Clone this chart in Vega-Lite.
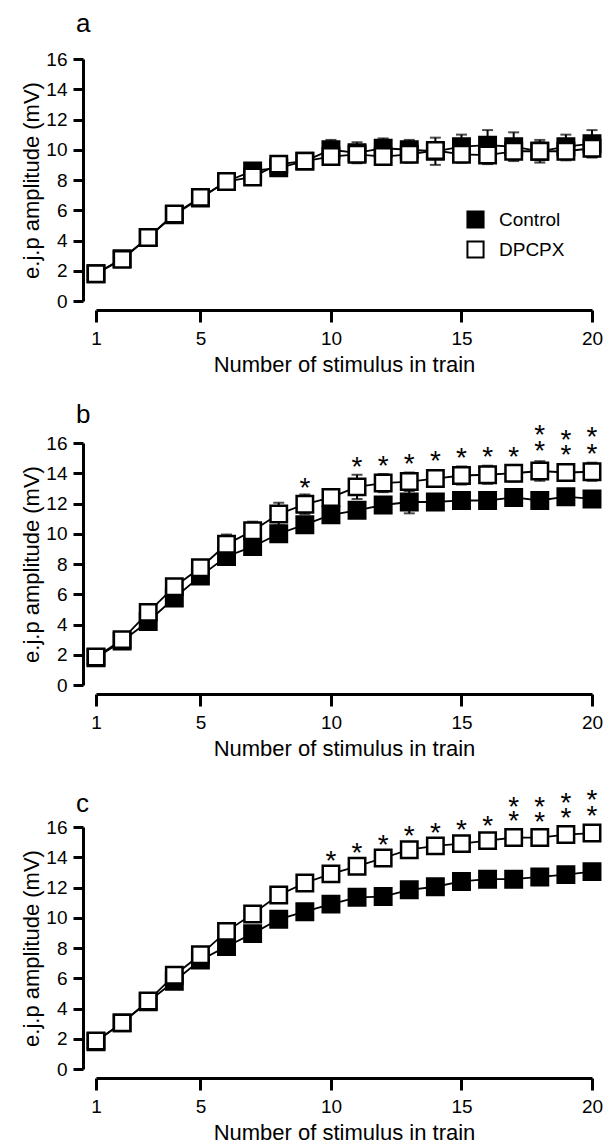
{
  "$schema": "https://vega.github.io/schema/vega-lite/v6.json",
  "padding": {"left": 20, "top": 11, "right": 2, "bottom": 2},
  "background": "white",
  "config": {
    "font": "Liberation Sans",
    "view": {"stroke": null},
    "axis": {"grid": false, "domainColor": "black", "tickColor": "black", "labelColor": "black", "titleColor": "black", "titleFontWeight": "normal", "domainWidth": 3, "tickWidth": 3, "labelFontSize": 19, "titleFontSize": 22, "labelFont": "Liberation Sans", "titleFont": "Liberation Sans"},
    "title": {"fontSize": 26, "fontWeight": "normal", "anchor": "start", "frame": "group", "color": "black", "font": "Liberation Sans"}
  },
  "datasets": {
    "series": [
      {"panel": "a", "group": "Control", "x": 1, "mean": 1.8, "sem": 0.15},
      {"panel": "a", "group": "Control", "x": 2, "mean": 2.8, "sem": 0.2},
      {"panel": "a", "group": "Control", "x": 3, "mean": 4.2, "sem": 0.25},
      {"panel": "a", "group": "Control", "x": 4, "mean": 5.7, "sem": 0.3},
      {"panel": "a", "group": "Control", "x": 5, "mean": 6.8, "sem": 0.35},
      {"panel": "a", "group": "Control", "x": 6, "mean": 7.9, "sem": 0.35},
      {"panel": "a", "group": "Control", "x": 7, "mean": 8.6, "sem": 0.4},
      {"panel": "a", "group": "Control", "x": 8, "mean": 8.8, "sem": 0.4},
      {"panel": "a", "group": "Control", "x": 9, "mean": 9.25, "sem": 0.4},
      {"panel": "a", "group": "Control", "x": 10, "mean": 10.0, "sem": 0.65},
      {"panel": "a", "group": "Control", "x": 11, "mean": 9.8, "sem": 0.7},
      {"panel": "a", "group": "Control", "x": 12, "mean": 10.1, "sem": 0.65},
      {"panel": "a", "group": "Control", "x": 13, "mean": 10.0, "sem": 0.65},
      {"panel": "a", "group": "Control", "x": 14, "mean": 9.9, "sem": 0.9},
      {"panel": "a", "group": "Control", "x": 15, "mean": 10.2, "sem": 0.8},
      {"panel": "a", "group": "Control", "x": 16, "mean": 10.3, "sem": 1.0},
      {"panel": "a", "group": "Control", "x": 17, "mean": 10.2, "sem": 0.95},
      {"panel": "a", "group": "Control", "x": 18, "mean": 9.9, "sem": 0.6},
      {"panel": "a", "group": "Control", "x": 19, "mean": 10.2, "sem": 0.8},
      {"panel": "a", "group": "Control", "x": 20, "mean": 10.4, "sem": 0.9},
      {"panel": "b", "group": "Control", "x": 1, "mean": 1.8, "sem": 0.15},
      {"panel": "b", "group": "Control", "x": 2, "mean": 2.9, "sem": 0.2},
      {"panel": "b", "group": "Control", "x": 3, "mean": 4.2, "sem": 0.25},
      {"panel": "b", "group": "Control", "x": 4, "mean": 5.75, "sem": 0.3},
      {"panel": "b", "group": "Control", "x": 5, "mean": 7.2, "sem": 0.3},
      {"panel": "b", "group": "Control", "x": 6, "mean": 8.5, "sem": 0.35},
      {"panel": "b", "group": "Control", "x": 7, "mean": 9.15, "sem": 0.4},
      {"panel": "b", "group": "Control", "x": 8, "mean": 10.0, "sem": 0.4},
      {"panel": "b", "group": "Control", "x": 9, "mean": 10.6, "sem": 0.4},
      {"panel": "b", "group": "Control", "x": 10, "mean": 11.25, "sem": 0.45},
      {"panel": "b", "group": "Control", "x": 11, "mean": 11.55, "sem": 0.45},
      {"panel": "b", "group": "Control", "x": 12, "mean": 11.9, "sem": 0.4},
      {"panel": "b", "group": "Control", "x": 13, "mean": 12.1, "sem": 0.75},
      {"panel": "b", "group": "Control", "x": 14, "mean": 12.1, "sem": 0.45},
      {"panel": "b", "group": "Control", "x": 15, "mean": 12.2, "sem": 0.4},
      {"panel": "b", "group": "Control", "x": 16, "mean": 12.2, "sem": 0.45},
      {"panel": "b", "group": "Control", "x": 17, "mean": 12.4, "sem": 0.4},
      {"panel": "b", "group": "Control", "x": 18, "mean": 12.2, "sem": 0.45},
      {"panel": "b", "group": "Control", "x": 19, "mean": 12.45, "sem": 0.4},
      {"panel": "b", "group": "Control", "x": 20, "mean": 12.3, "sem": 0.45},
      {"panel": "c", "group": "Control", "x": 1, "mean": 1.8, "sem": 0.15},
      {"panel": "c", "group": "Control", "x": 2, "mean": 3.05, "sem": 0.2},
      {"panel": "c", "group": "Control", "x": 3, "mean": 4.45, "sem": 0.25},
      {"panel": "c", "group": "Control", "x": 4, "mean": 5.8, "sem": 0.3},
      {"panel": "c", "group": "Control", "x": 5, "mean": 7.2, "sem": 0.3},
      {"panel": "c", "group": "Control", "x": 6, "mean": 8.1, "sem": 0.35},
      {"panel": "c", "group": "Control", "x": 7, "mean": 8.95, "sem": 0.35},
      {"panel": "c", "group": "Control", "x": 8, "mean": 9.9, "sem": 0.4},
      {"panel": "c", "group": "Control", "x": 9, "mean": 10.4, "sem": 0.4},
      {"panel": "c", "group": "Control", "x": 10, "mean": 10.9, "sem": 0.4},
      {"panel": "c", "group": "Control", "x": 11, "mean": 11.35, "sem": 0.4},
      {"panel": "c", "group": "Control", "x": 12, "mean": 11.4, "sem": 0.4},
      {"panel": "c", "group": "Control", "x": 13, "mean": 11.85, "sem": 0.45},
      {"panel": "c", "group": "Control", "x": 14, "mean": 12.05, "sem": 0.45},
      {"panel": "c", "group": "Control", "x": 15, "mean": 12.4, "sem": 0.45},
      {"panel": "c", "group": "Control", "x": 16, "mean": 12.55, "sem": 0.45},
      {"panel": "c", "group": "Control", "x": 17, "mean": 12.55, "sem": 0.5},
      {"panel": "c", "group": "Control", "x": 18, "mean": 12.7, "sem": 0.45},
      {"panel": "c", "group": "Control", "x": 19, "mean": 12.85, "sem": 0.45},
      {"panel": "c", "group": "Control", "x": 20, "mean": 13.05, "sem": 0.5},
      {"panel": "a", "group": "DPCPX", "x": 1, "mean": 1.8, "sem": 0.15},
      {"panel": "a", "group": "DPCPX", "x": 2, "mean": 2.75, "sem": 0.2},
      {"panel": "a", "group": "DPCPX", "x": 3, "mean": 4.2, "sem": 0.25},
      {"panel": "a", "group": "DPCPX", "x": 4, "mean": 5.75, "sem": 0.3},
      {"panel": "a", "group": "DPCPX", "x": 5, "mean": 6.85, "sem": 0.3},
      {"panel": "a", "group": "DPCPX", "x": 6, "mean": 7.9, "sem": 0.35},
      {"panel": "a", "group": "DPCPX", "x": 7, "mean": 8.2, "sem": 0.35},
      {"panel": "a", "group": "DPCPX", "x": 8, "mean": 9.05, "sem": 0.4},
      {"panel": "a", "group": "DPCPX", "x": 9, "mean": 9.25, "sem": 0.4},
      {"panel": "a", "group": "DPCPX", "x": 10, "mean": 9.55, "sem": 0.5},
      {"panel": "a", "group": "DPCPX", "x": 11, "mean": 9.7, "sem": 0.55},
      {"panel": "a", "group": "DPCPX", "x": 12, "mean": 9.55, "sem": 0.5},
      {"panel": "a", "group": "DPCPX", "x": 13, "mean": 9.7, "sem": 0.55},
      {"panel": "a", "group": "DPCPX", "x": 14, "mean": 9.95, "sem": 0.5},
      {"panel": "a", "group": "DPCPX", "x": 15, "mean": 9.7, "sem": 0.55},
      {"panel": "a", "group": "DPCPX", "x": 16, "mean": 9.65, "sem": 0.6},
      {"panel": "a", "group": "DPCPX", "x": 17, "mean": 9.9, "sem": 0.55},
      {"panel": "a", "group": "DPCPX", "x": 18, "mean": 9.9, "sem": 0.75},
      {"panel": "a", "group": "DPCPX", "x": 19, "mean": 9.9, "sem": 0.6},
      {"panel": "a", "group": "DPCPX", "x": 20, "mean": 10.1, "sem": 0.6},
      {"panel": "b", "group": "DPCPX", "x": 1, "mean": 1.85, "sem": 0.15},
      {"panel": "b", "group": "DPCPX", "x": 2, "mean": 3.0, "sem": 0.2},
      {"panel": "b", "group": "DPCPX", "x": 3, "mean": 4.8, "sem": 0.25},
      {"panel": "b", "group": "DPCPX", "x": 4, "mean": 6.5, "sem": 0.3},
      {"panel": "b", "group": "DPCPX", "x": 5, "mean": 7.75, "sem": 0.4},
      {"panel": "b", "group": "DPCPX", "x": 6, "mean": 9.3, "sem": 0.65},
      {"panel": "b", "group": "DPCPX", "x": 7, "mean": 10.2, "sem": 0.6},
      {"panel": "b", "group": "DPCPX", "x": 8, "mean": 11.3, "sem": 0.75},
      {"panel": "b", "group": "DPCPX", "x": 9, "mean": 11.95, "sem": 0.65},
      {"panel": "b", "group": "DPCPX", "x": 10, "mean": 12.4, "sem": 0.55},
      {"panel": "b", "group": "DPCPX", "x": 11, "mean": 13.1, "sem": 0.8},
      {"panel": "b", "group": "DPCPX", "x": 12, "mean": 13.35, "sem": 0.6},
      {"panel": "b", "group": "DPCPX", "x": 13, "mean": 13.45, "sem": 0.6},
      {"panel": "b", "group": "DPCPX", "x": 14, "mean": 13.65, "sem": 0.55},
      {"panel": "b", "group": "DPCPX", "x": 15, "mean": 13.85, "sem": 0.6},
      {"panel": "b", "group": "DPCPX", "x": 16, "mean": 13.9, "sem": 0.6},
      {"panel": "b", "group": "DPCPX", "x": 17, "mean": 14.0, "sem": 0.55},
      {"panel": "b", "group": "DPCPX", "x": 18, "mean": 14.15, "sem": 0.65},
      {"panel": "b", "group": "DPCPX", "x": 19, "mean": 14.05, "sem": 0.5},
      {"panel": "b", "group": "DPCPX", "x": 20, "mean": 14.1, "sem": 0.6},
      {"panel": "c", "group": "DPCPX", "x": 1, "mean": 1.85, "sem": 0.15},
      {"panel": "c", "group": "DPCPX", "x": 2, "mean": 3.05, "sem": 0.2},
      {"panel": "c", "group": "DPCPX", "x": 3, "mean": 4.5, "sem": 0.25},
      {"panel": "c", "group": "DPCPX", "x": 4, "mean": 6.2, "sem": 0.3},
      {"panel": "c", "group": "DPCPX", "x": 5, "mean": 7.55, "sem": 0.3},
      {"panel": "c", "group": "DPCPX", "x": 6, "mean": 9.1, "sem": 0.35},
      {"panel": "c", "group": "DPCPX", "x": 7, "mean": 10.25, "sem": 0.35},
      {"panel": "c", "group": "DPCPX", "x": 8, "mean": 11.5, "sem": 0.4},
      {"panel": "c", "group": "DPCPX", "x": 9, "mean": 12.3, "sem": 0.4},
      {"panel": "c", "group": "DPCPX", "x": 10, "mean": 12.9, "sem": 0.45},
      {"panel": "c", "group": "DPCPX", "x": 11, "mean": 13.4, "sem": 0.45},
      {"panel": "c", "group": "DPCPX", "x": 12, "mean": 13.95, "sem": 0.45},
      {"panel": "c", "group": "DPCPX", "x": 13, "mean": 14.5, "sem": 0.5},
      {"panel": "c", "group": "DPCPX", "x": 14, "mean": 14.75, "sem": 0.45},
      {"panel": "c", "group": "DPCPX", "x": 15, "mean": 14.9, "sem": 0.5},
      {"panel": "c", "group": "DPCPX", "x": 16, "mean": 15.1, "sem": 0.45},
      {"panel": "c", "group": "DPCPX", "x": 17, "mean": 15.3, "sem": 0.5},
      {"panel": "c", "group": "DPCPX", "x": 18, "mean": 15.3, "sem": 0.5},
      {"panel": "c", "group": "DPCPX", "x": 19, "mean": 15.5, "sem": 0.5},
      {"panel": "c", "group": "DPCPX", "x": 20, "mean": 15.6, "sem": 0.5}
    ],
    "stars": [
      {"panel": "b", "x": 9, "y": 13.45},
      {"panel": "b", "x": 11, "y": 14.8},
      {"panel": "b", "x": 12, "y": 14.9},
      {"panel": "b", "x": 13, "y": 15.0},
      {"panel": "b", "x": 14, "y": 15.2},
      {"panel": "b", "x": 15, "y": 15.4},
      {"panel": "b", "x": 16, "y": 15.5},
      {"panel": "b", "x": 17, "y": 15.5},
      {"panel": "b", "x": 18, "y": 15.85},
      {"panel": "b", "x": 18, "y": 16.95},
      {"panel": "b", "x": 19, "y": 15.6},
      {"panel": "b", "x": 19, "y": 16.6},
      {"panel": "b", "x": 20, "y": 15.7},
      {"panel": "b", "x": 20, "y": 16.8},
      {"panel": "c", "x": 10, "y": 14.15},
      {"panel": "c", "x": 11, "y": 14.65},
      {"panel": "c", "x": 12, "y": 15.2},
      {"panel": "c", "x": 13, "y": 15.8},
      {"panel": "c", "x": 14, "y": 16.0},
      {"panel": "c", "x": 15, "y": 16.2},
      {"panel": "c", "x": 16, "y": 16.45},
      {"panel": "c", "x": 17, "y": 16.8},
      {"panel": "c", "x": 17, "y": 17.75},
      {"panel": "c", "x": 18, "y": 16.7},
      {"panel": "c", "x": 18, "y": 17.75},
      {"panel": "c", "x": 19, "y": 17.0},
      {"panel": "c", "x": 19, "y": 18.0},
      {"panel": "c", "x": 20, "y": 17.1},
      {"panel": "c", "x": 20, "y": 18.2}
    ]
  },
  "resolve": {"legend": {"fill": "independent"}},
  "bounds": "flush",
  "spacing": 142,
  "vconcat": [
    {
      "width": 496, "height": 242,
      "title": {"text": "a", "dx": -20, "offset": 13},
      "data": {"name": "series"},
      "transform": [{"filter": "datum.panel == 'a'"}],
      "encoding": {
        "x": {"field": "x", "type": "quantitative", "scale": {"domain": [1, 20], "nice": false, "zero": false}, "axis": {"values": [1, 5, 10, 15, 20], "title": "Number of stimulus in train", "offset": 9, "tickSize": 12, "labelPadding": 7, "titlePadding": 6, "labelFlush": false}},
        "y": {"field": "mean", "type": "quantitative", "scale": {"domain": [0, 16], "nice": false}, "axis": {"values": [0, 2, 4, 6, 8, 10, 12, 14, 16], "title": "e.j.p amplitude (mV)", "offset": 13, "tickSize": 10, "labelPadding": 6, "titlePadding": 2, "labelOverlap": false}}
      },
      "layer": [
        {"mark": {"type": "errorbar", "color": "black", "thickness": 2, "ticks": {"size": 11, "thickness": 2, "color": "black"}}, "encoding": {"y": {"field": "mean", "type": "quantitative"}, "yError": {"field": "sem"}, "detail": {"field": "group"}}},
        {"mark": {"type": "line", "color": "black", "strokeWidth": 1.8}, "encoding": {"detail": {"field": "group"}}},
        {"mark": {"type": "point", "shape": "square", "size": 270, "strokeWidth": 2.5, "stroke": "black", "opacity": 1, "filled": true},
         "encoding": {"fill": {"field": "group", "type": "nominal", "scale": {"domain": ["Control", "DPCPX"], "range": ["black", "white"]},
           "legend": {"orient": "none", "legendX": 370, "legendY": 151, "title": null, "symbolType": "square", "symbolSize": 260, "symbolStrokeColor": "black", "symbolStrokeWidth": 2, "labelFontSize": 19, "labelFont": "Liberation Sans", "labelColor": "black", "labelOffset": 14, "rowPadding": 5}}}}
      ]
    },
    {
      "width": 496, "height": 242,
      "title": {"text": "b", "dx": -20, "offset": -6},
      "encoding": {
        "x": {"field": "x", "type": "quantitative", "scale": {"domain": [1, 20], "nice": false, "zero": false}, "axis": {"values": [1, 5, 10, 15, 20], "title": "Number of stimulus in train", "offset": 9, "tickSize": 12, "labelPadding": 7, "titlePadding": 6, "labelFlush": false}}
      },
      "layer": [
        {"data": {"name": "series"}, "transform": [{"filter": "datum.panel == 'b'"}],
         "encoding": {"y": {"field": "mean", "type": "quantitative", "scale": {"domain": [0, 16], "nice": false}, "axis": {"values": [0, 2, 4, 6, 8, 10, 12, 14, 16], "title": "e.j.p amplitude (mV)", "offset": 13, "tickSize": 10, "labelPadding": 6, "titlePadding": 2, "labelOverlap": false}}},
         "layer": [
          {"mark": {"type": "errorbar", "color": "black", "thickness": 2, "ticks": {"size": 11, "thickness": 2, "color": "black"}}, "encoding": {"y": {"field": "mean", "type": "quantitative"}, "yError": {"field": "sem"}, "detail": {"field": "group"}}},
          {"mark": {"type": "line", "color": "black", "strokeWidth": 1.8}, "encoding": {"detail": {"field": "group"}}},
          {"mark": {"type": "point", "shape": "square", "size": 270, "strokeWidth": 2.5, "stroke": "black", "opacity": 1, "filled": true},
           "encoding": {"fill": {"field": "group", "type": "nominal", "scale": {"domain": ["Control", "DPCPX"], "range": ["black", "white"]}, "legend": null}}}
         ]},
        {"data": {"name": "stars"}, "transform": [{"filter": "datum.panel == 'b'"}],
         "mark": {"type": "text", "text": "*", "fontSize": 28, "font": "Liberation Sans", "baseline": "middle", "dy": 7, "color": "black"},
         "encoding": {"y": {"field": "y", "type": "quantitative", "scale": {"domain": [0, 16], "nice": false}, "axis": {"values": [0, 2, 4, 6, 8, 10, 12, 14, 16], "title": "e.j.p amplitude (mV)", "offset": 13, "tickSize": 10, "labelPadding": 6, "titlePadding": 2, "labelOverlap": false}}}}
      ]
    },
    {
      "width": 496, "height": 242,
      "title": {"text": "c", "dx": -20, "offset": -30},
      "encoding": {
        "x": {"field": "x", "type": "quantitative", "scale": {"domain": [1, 20], "nice": false, "zero": false}, "axis": {"values": [1, 5, 10, 15, 20], "title": "Number of stimulus in train", "offset": 9, "tickSize": 12, "labelPadding": 7, "titlePadding": 6, "labelFlush": false}}
      },
      "layer": [
        {"data": {"name": "series"}, "transform": [{"filter": "datum.panel == 'c'"}],
         "encoding": {"y": {"field": "mean", "type": "quantitative", "scale": {"domain": [0, 16], "nice": false}, "axis": {"values": [0, 2, 4, 6, 8, 10, 12, 14, 16], "title": "e.j.p amplitude (mV)", "offset": 13, "tickSize": 10, "labelPadding": 6, "titlePadding": 2, "labelOverlap": false}}},
         "layer": [
          {"mark": {"type": "errorbar", "color": "black", "thickness": 2, "ticks": {"size": 11, "thickness": 2, "color": "black"}}, "encoding": {"y": {"field": "mean", "type": "quantitative"}, "yError": {"field": "sem"}, "detail": {"field": "group"}}},
          {"mark": {"type": "line", "color": "black", "strokeWidth": 1.8}, "encoding": {"detail": {"field": "group"}}},
          {"mark": {"type": "point", "shape": "square", "size": 270, "strokeWidth": 2.5, "stroke": "black", "opacity": 1, "filled": true},
           "encoding": {"fill": {"field": "group", "type": "nominal", "scale": {"domain": ["Control", "DPCPX"], "range": ["black", "white"]}, "legend": null}}}
         ]},
        {"data": {"name": "stars"}, "transform": [{"filter": "datum.panel == 'c'"}],
         "mark": {"type": "text", "text": "*", "fontSize": 28, "font": "Liberation Sans", "baseline": "middle", "dy": 7, "color": "black"},
         "encoding": {"y": {"field": "y", "type": "quantitative", "scale": {"domain": [0, 16], "nice": false}, "axis": {"values": [0, 2, 4, 6, 8, 10, 12, 14, 16], "title": "e.j.p amplitude (mV)", "offset": 13, "tickSize": 10, "labelPadding": 6, "titlePadding": 2, "labelOverlap": false}}}}
      ]
    }
  ]
}
